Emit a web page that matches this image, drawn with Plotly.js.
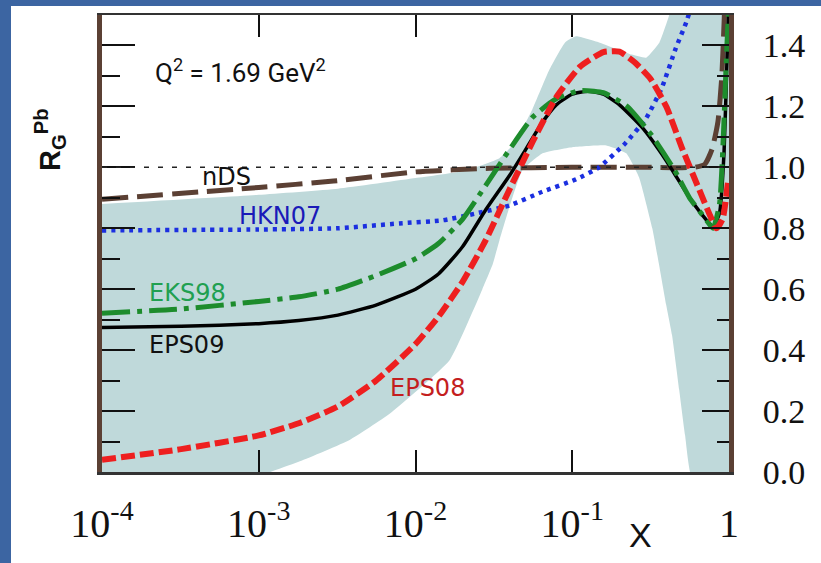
<!DOCTYPE html>
<html><head><meta charset="utf-8">
<script src="https://cdn.plot.ly/plotly-3.0.1.min.js"></script>
<style>
html,body{margin:0;padding:0;background:#3c65a2;width:821px;height:563px;overflow:hidden}
#plot{position:absolute;left:11px;top:6px;width:810px;height:557px;background:#fff}
</style></head><body><div id="plot"></div>
<script>
// ---- data ----
const ndsX = [1e-4, 1e-3, 3e-3, 1e-2, 3e-2, 0.1, 0.3, 0.6, 0.7, 0.78, 0.85, 0.9, 0.95];
const ndsY = [0.895, 0.934, 0.955, 0.985, 0.997, 1.0, 1.0, 1.0, 1.01, 1.06, 1.15, 1.3, 1.6];

const hknX = [1e-4, 1e-3, 3.2e-3, 7.9e-3, 0.0148, 0.0245, 0.0398, 0.0646, 0.106, 0.148, 0.219, 0.295, 0.372, 0.457, 0.537, 0.63];
const hknY = [0.793, 0.796, 0.80, 0.816, 0.826, 0.849, 0.875, 0.92, 0.961, 1.0, 1.08, 1.16, 1.26, 1.39, 1.48, 1.6];

const eksX = [1e-4, 3.2e-4, 1e-3, 1.8e-3, 3.2e-3, 5.6e-3, 0.01, 0.014, 0.02, 0.028, 0.04, 0.056, 0.079, 0.112, 0.158, 0.224, 0.316, 0.45, 0.56, 0.71, 0.79, 0.87, 0.92, 0.966, 1.0];
const eksY = [0.521, 0.535, 0.56, 0.575, 0.60, 0.645, 0.70, 0.75, 0.83, 0.94, 1.06, 1.165, 1.225, 1.252, 1.245, 1.20, 1.11, 0.99, 0.90, 0.83, 0.80, 0.88, 1.10, 1.38, 1.55];

const eps09X = [1e-4, 3.2e-4, 1e-3, 1.8e-3, 3.2e-3, 5.6e-3, 0.01, 0.014, 0.02, 0.028, 0.04, 0.05, 0.063, 0.079, 0.1, 0.126, 0.158, 0.2, 0.28, 0.4, 0.56, 0.71, 0.79, 0.87, 0.93, 0.977, 1.0];
const eps09Y = [0.474, 0.478, 0.487, 0.497, 0.515, 0.548, 0.60, 0.65, 0.74, 0.86, 0.975, 1.055, 1.14, 1.205, 1.24, 1.25, 1.24, 1.205, 1.13, 1.02, 0.90, 0.83, 0.805, 0.85, 1.05, 1.40, 1.55];

const eps08X = [1e-4, 3.2e-4, 1e-3, 1.8e-3, 3.2e-3, 5.6e-3, 0.01, 0.014, 0.02, 0.028, 0.04, 0.056, 0.079, 0.112, 0.158, 0.2, 0.25, 0.316, 0.4, 0.5, 0.63, 0.76, 0.83, 0.91, 0.989];
const eps08Y = [0.04, 0.075, 0.12, 0.16, 0.215, 0.30, 0.42, 0.51, 0.625, 0.76, 0.93, 1.085, 1.23, 1.33, 1.378, 1.38, 1.345, 1.29, 1.197, 1.065, 0.94, 0.84, 0.80, 0.83, 0.96];

const bandHiX = [1e-4, 1e-3, 3.2e-3, 0.01, 0.021, 0.0343, 0.0428, 0.0556, 0.0714, 0.09, 0.106, 0.148, 0.24, 0.296, 0.36, 0.41, 0.48, 1.0];
const bandHiY = [0.88, 0.91, 0.93, 0.965, 0.99, 1.03, 1.08, 1.19, 1.32, 1.41, 1.43, 1.41, 1.37, 1.36, 1.41, 1.49, 1.6, 1.6];
const bandLoX = [1e-4, 8.8e-4, 1.83e-3, 3.8e-3, 6.8e-3, 0.0165, 0.0267, 0.031, 0.0343, 0.0397, 0.048, 0.0646, 0.1, 0.165, 0.221, 0.267, 0.324, 0.358, 0.397, 0.433, 0.481, 0.525, 0.58, 1.0];
const bandLoY = [-0.02, -0.02, 0.035, 0.105, 0.19, 0.367, 0.60, 0.68, 0.76, 0.869, 0.99, 1.046, 1.066, 1.072, 1.046, 0.967, 0.80, 0.68, 0.55, 0.45, 0.27, 0.12, -0.02, -0.1];

const xTickVals = [1e-4, 1e-3, 1e-2, 1e-1, 1];
const xTickText = ['10<sup>-4</sup>', '10<sup>-3</sup>', '10<sup>-2</sup>', '10<sup>-1</sup>', '1'];
const refLevel = 1.0;

// ---- helpers: page pixel -> paper coords ----
const PL = 102, PR = 729, PT = 15, PB = 472;
const px = v => (v - PL) / (PR - PL);
const py = v => (PB - v) / (PB - PT);

const brown = '#5b4034';
const sm = 0.5;
const traces = [
  {x: bandHiX.concat(bandLoX.slice().reverse()), y: bandHiY.concat(bandLoY.slice().reverse()),
   mode: 'lines', fill: 'toself', fillcolor: '#bfd9da', line: {width: 0, shape: 'spline', smoothing: 0.4}, hoverinfo: 'skip'},
  {x: ndsX, y: ndsY, mode: 'lines', line: {color: brown, width: 5, dash: '26px,9px', shape: 'spline', smoothing: sm}},
  {x: hknX, y: hknY, mode: 'lines', line: {color: '#1b2fe0', width: 4.5, dash: '4px,5px', shape: 'spline', smoothing: sm}},
  {x: eps09X, y: eps09Y, mode: 'lines', line: {color: '#000', width: 3.5, shape: 'spline', smoothing: sm}},
  {x: eksX, y: eksY, mode: 'lines', line: {color: '#1d8c2c', width: 5, dash: '28px,7px,5px,7px', shape: 'spline', smoothing: sm}},
  {x: eps08X, y: eps08Y, yaxis: 'y2', mode: 'lines', line: {color: '#ee1f1f', width: 6, dash: '14px,5px', shape: 'spline', smoothing: sm}}
];

const lblFont = (c) => ({family: 'DejaVu Sans', size: 24, color: c});
const annotations = [
  {x: px(153), y: py(71), xanchor: 'left', yanchor: 'middle', text: 'Q<sup>2</sup> = 1.69 GeV<sup>2</sup>', font: {family: 'Roboto', size: 26, color: '#111'}},
  {x: px(226), y: py(177), text: 'nDS', font: lblFont('#111')},
  {x: px(280), y: py(216), text: 'HKN07', font: lblFont('#1a1ab8')},
  {x: px(187), y: py(293), text: 'EKS98', font: lblFont('#20a050')},
  {x: px(186), y: py(345), text: 'EPS09', font: lblFont('#111')},
  {x: px(427), y: py(388), text: 'EPS08', font: lblFont('#c41e1e')},
  {x: px(50), y: py(140), text: '<b>R<sub>G</sub><sup>Pb</sup></b>', textangle: -90, font: {family: 'Liberation Sans', size: 29, color: '#111'}},
  {x: px(640), y: py(535), text: 'X', font: {family: 'Liberation Sans', size: 34, color: '#111'}}
].map(a => Object.assign({xref: 'paper', yref: 'paper', showarrow: false, xanchor: 'center', yanchor: 'middle'}, a));

const layout = {
  width: 810, height: 557,
  margin: {l: 91, r: 92, t: 9, b: 91, pad: 0},
  paper_bgcolor: '#fff', plot_bgcolor: '#fff',
  showlegend: false,
  xaxis: {type: 'log', range: [-4, 0], showline: true, linecolor: '#333', linewidth: 2.5, mirror: 'ticks',
          ticks: 'inside', ticklen: 22, tickwidth: 2, tickcolor: '#111',
          tickvals: xTickVals, ticktext: xTickText, ticklabelstandoff: 14,
          tickfont: {family: 'Liberation Serif', size: 40, color: '#111'},
          showgrid: false, zeroline: false},
  yaxis: {range: [0, 1.5], showline: true, linecolor: brown, linewidth: 5,
          ticks: 'inside', ticklen: 33, tickwidth: 2, tickcolor: '#111', tick0: 0, dtick: 0.2,
          minor: {dtick: 0.1, ticks: 'inside', ticklen: 18, tickwidth: 2, tickcolor: '#111'},
          showticklabels: false, showgrid: false, zeroline: false},
  yaxis2: {range: [0, 1.5], overlaying: 'y', side: 'right', showline: true, linecolor: brown, linewidth: 5,
           ticks: 'inside', ticklen: 27, tickwidth: 2, tickcolor: '#111', tick0: 0, dtick: 0.2, tickformat: '.1f',
           minor: {dtick: 0.1, ticks: 'inside', ticklen: 12, tickwidth: 2, tickcolor: '#111'},
           ticklabelstandoff: 22,
           tickfont: {family: 'Liberation Serif', size: 34, color: '#111'},
           showgrid: false, zeroline: false},
  shapes: [{type: 'line', xref: 'paper', x0: 0, x1: 1, yref: 'y', y0: refLevel, y1: refLevel,
            line: {color: '#222', width: 1.5, dash: '5px,9px'}, layer: 'above'}],
  annotations: annotations
};

Plotly.newPlot('plot', traces, layout, {staticPlot: true, displayModeBar: false});
</script></body></html>
